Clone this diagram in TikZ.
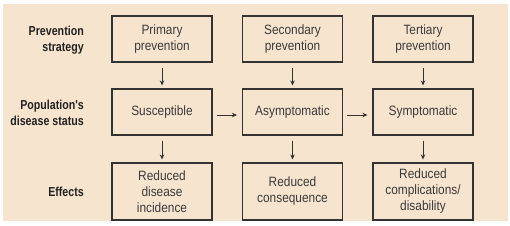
\documentclass[tikz,border=0pt]{standalone}
\usepackage{fontspec}
\setmainfont{Liberation Sans}
\newfontfamily\boxfont[FakeStretch=0.88]{Liberation Sans}
\newfontfamily\labfont[FakeStretch=0.82]{Liberation Sans}
\usetikzlibrary{arrows.meta}
\definecolor{bg}{HTML}{F7E4CF}
\definecolor{linec}{HTML}{333333}
\definecolor{txt}{HTML}{3A3A3A}
\definecolor{labc}{HTML}{222222}
\begin{document}
\begin{tikzpicture}[x=1pt,y=-1pt,
  box/.style={draw=linec, line width=1.1pt, fill=bg, minimum width=100pt, align=center,
    font=\boxfont\fontsize{13.5}{16}\selectfont, text=txt, inner sep=0pt},
  boxa/.style={box, minimum height=46pt},
  boxb/.style={box, minimum height=57pt},
  lab/.style={anchor=east, align=right, font=\labfont\bfseries\fontsize{13}{16}\selectfont, text=labc, inner sep=0pt},
  arr/.style={-{Stealth[length=5pt,width=4.5pt]}, line width=0.9pt, draw=linec}]
\useasboundingbox (0,0) rectangle (510,225);
\fill[bg] (3,4) rectangle (508,221);
% labels
\node[lab] (l1) at (84,40) {Prevention\\strategy};
\node[lab] (l2) at (84,113) {Population's\\disease status};
\node[lab] (l3) at (84,192) {Effects};
% row 1
\node[boxa] (p1) at (162,39) {Primary\\prevention};
\node[boxa] (p2) at (292.5,39) {Secondary\\prevention};
\node[boxa] (p3) at (423,39) {Tertiary\\prevention};
% row 2
\node[boxa] (s1) at (162,112) {Susceptible};
\node[boxa] (s2) at (292.5,112) {Asymptomatic};
\node[boxa] (s3) at (423,112) {Symptomatic};
% row 3
\node[boxb] (e1) at (162,191.5) {Reduced\\disease\\incidence};
\node[boxb] (e2) at (292.5,191.5) {Reduced\\consequence};
\node[boxb] (e3) at (423,191.5) {Reduced\\complications/\\disability};
% arrows
\foreach \a/\b in {p1/s1,p2/s2,p3/s3,s1/e1,s2/e2,s3/e3}
  \draw[arr, shorten <=5pt, shorten >=3pt] (\a) -- (\b);
\draw[arr, shorten <=4pt, shorten >=5pt] ([yshift=-3pt]s1.east) -- ([yshift=-3pt]s2.west);
\draw[arr, shorten <=4pt, shorten >=5pt] ([yshift=-3pt]s2.east) -- ([yshift=-3pt]s3.west);
\end{tikzpicture}
\end{document}
